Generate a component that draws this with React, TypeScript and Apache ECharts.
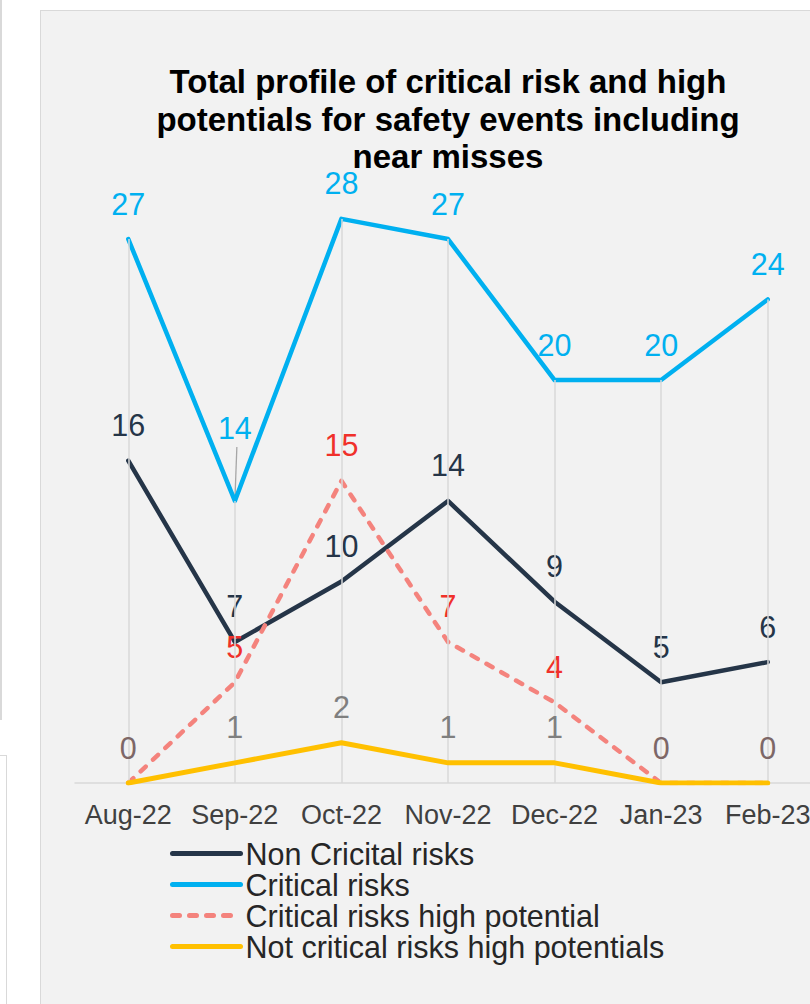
import React, { useEffect, useRef } from "react";
import * as echarts from "echarts";

// Monthly counts of safety events (including near misses)
const categories = ["Aug-22", "Sep-22", "Oct-22", "Nov-22", "Dec-22", "Jan-23", "Feb-23"];
const nonCriticalRisks = [16, 7, 10, 14, 9, 5, 6];
const criticalRisks = [27, 14, 28, 27, 20, 20, 24];
const criticalHighPotential = [0, 5, 15, 7, 4, 0, 0];
const notCriticalHighPotential = [0, 1, 2, 1, 1, 0, 0];

const seriesNames = [
  "Non Cricital risks",
  "Critical risks",
  "Critical risks high potential",
  "Not critical risks high potentials",
];

const FONT = "Liberation Sans, Arial, sans-serif";

// the Sep-22 critical-risk label is lifted clear of the crossing lines
const LIFTED_INDEX = 1;
const LIFT = 37;

export default function App() {
  const ref = useRef<HTMLDivElement>(null);

  useEffect(() => {
    if (!ref.current) return;
    const chart = echarts.init(ref.current, null, { renderer: "svg" });

    // drop lines from the highest value of each month down to the axis
    const dropLines = categories.map((c, i) => {
      const top = Math.max(
        nonCriticalRisks[i],
        criticalRisks[i],
        criticalHighPotential[i],
        notCriticalHighPotential[i]
      );
      return [{ coord: [c, top] }, { coord: [c, 0] }];
    });

    const labelBase = {
      show: true,
      position: "top" as const,
      distance: 20,
      fontSize: 30.5,
      fontFamily: FONT,
    };

    // invisible point markers so the value labels can attach to them
    const hiddenSymbol = {
      symbol: "circle",
      symbolSize: 0,
      showSymbol: true,
    };

    chart.setOption({
      animation: false,
      backgroundColor: "transparent",
      title: {
        text: "Total profile of critical risk and high\npotentials for safety events including\nnear misses",
        left: 443,
        top: 58,
        textAlign: "center",
        textStyle: {
          fontFamily: FONT,
          fontSize: 33,
          fontWeight: "bold",
          color: "#000000",
          lineHeight: 37.5,
        },
      },
      legend: {
        data: seriesNames,
        orient: "vertical",
        left: 170,
        top: 838,
        padding: 0,
        itemWidth: 68,
        itemHeight: 14,
        itemGap: 0,
        itemStyle: { opacity: 0 },
        lineStyle: { width: 5, cap: "round" },
        textStyle: {
          fontFamily: FONT,
          fontSize: 30.5,
          lineHeight: 30.7,
          color: "#262626",
        },
      },
      grid: { left: 75, right: 9, top: 178.6, bottom: 221, containLabel: false },
      xAxis: {
        type: "category",
        data: categories,
        boundaryGap: true,
        axisLine: { lineStyle: { color: "#D9D9D9", width: 1.5 } },
        axisTick: { show: false },
        splitLine: { show: false },
        axisLabel: {
          fontFamily: FONT,
          fontSize: 27,
          color: "#404040",
          margin: 18,
          interval: 0,
        },
      },
      yAxis: {
        type: "value",
        min: 0,
        max: 30,
        show: false,
        splitLine: { show: false },
      },
      series: [
        {
          name: "drop",
          type: "line",
          data: criticalRisks,
          symbol: "none",
          lineStyle: { opacity: 0 },
          silent: true,
          z: 1,
          markLine: {
            silent: true,
            symbol: "none",
            label: { show: false },
            lineStyle: { color: "#D9D9D9", width: 1.5, type: "solid" },
            data: dropLines,
          },
        },
        {
          name: seriesNames[0],
          type: "line",
          data: nonCriticalRisks,
          ...hiddenSymbol,
          z: 2,
          lineStyle: { color: "#253548", width: 4.5, cap: "round", join: "round" },
          itemStyle: { color: "#253548" },
          label: { ...labelBase, color: "#253548" },
        },
        {
          name: seriesNames[1],
          type: "line",
          data: criticalRisks,
          ...hiddenSymbol,
          z: 3,
          lineStyle: { color: "#00B0F0", width: 4.5, cap: "round", join: "round" },
          itemStyle: { color: "#00B0F0" },
          label: { ...labelBase, color: "#00B0F0" },
          labelLayout: (params: any) =>
            params.dataIndex === LIFTED_INDEX ? { dy: -LIFT } : {},
        },
        {
          name: seriesNames[2],
          type: "line",
          data: criticalHighPotential,
          ...hiddenSymbol,
          z: 4,
          lineStyle: {
            color: "#F4837D",
            width: 4.5,
            type: [7, 10],
            cap: "round",
            join: "round",
          },
          itemStyle: { color: "#F4837D" },
          label: {
            ...labelBase,
            color: "#F0302A",
            formatter: (p: any) => (p.value === 0 ? "" : String(p.value)),
          },
        },
        {
          name: seriesNames[3],
          type: "line",
          data: notCriticalHighPotential.map((v) =>
            v === 0 ? { value: v, label: { color: "#7D6767" } } : v
          ),
          ...hiddenSymbol,
          z: 5,
          lineStyle: { color: "#FFC000", width: 5, cap: "round", join: "round" },
          itemStyle: { color: "#FFC000" },
          label: { ...labelBase, color: "#7F7F7F" },
        },
      ],
    });

    // leader line from the lifted label back to its point
    const pt = chart.convertToPixel({ gridIndex: 0 }, [
      LIFTED_INDEX,
      criticalRisks[LIFTED_INDEX],
    ]) as number[];
    if (pt) {
      chart.setOption({
        graphic: [
          {
            type: "line",
            silent: true,
            z: 2,
            shape: { x1: pt[0] + 2, y1: pt[1] - LIFT - 17, x2: pt[0], y2: pt[1] },
            style: { stroke: "#A6A6A6", lineWidth: 1.3 },
          },
        ],
      });
    }

    return () => chart.dispose();
  }, []);

  return (
    <div
      style={{
        position: "fixed",
        left: 0,
        top: 0,
        width: 810,
        height: 1004,
        overflow: "hidden",
        background: "#FFFFFF",
      }}
    >
      {/* edge of the neighbouring panel above */}
      <div
        style={{
          position: "absolute",
          left: 0,
          top: 0,
          width: 1.5,
          height: 720,
          background: "#D9D9D9",
        }}
      />
      {/* edge of the neighbouring panel below */}
      <div
        style={{
          position: "absolute",
          left: -10,
          top: 755,
          width: 15,
          height: 300,
          border: "1.5px solid #D9D9D9",
          background: "#FFFFFF",
        }}
      />
      {/* chart panel */}
      <div
        style={{
          position: "absolute",
          left: 40,
          top: 10,
          width: 800,
          height: 1020,
          background: "#F2F2F2",
          border: "1.5px solid #D9D9D9",
          boxSizing: "border-box",
        }}
      />
      <div
        ref={ref}
        style={{ position: "absolute", left: 0, top: 0, width: 830, height: 1004 }}
      />
    </div>
  );
}
